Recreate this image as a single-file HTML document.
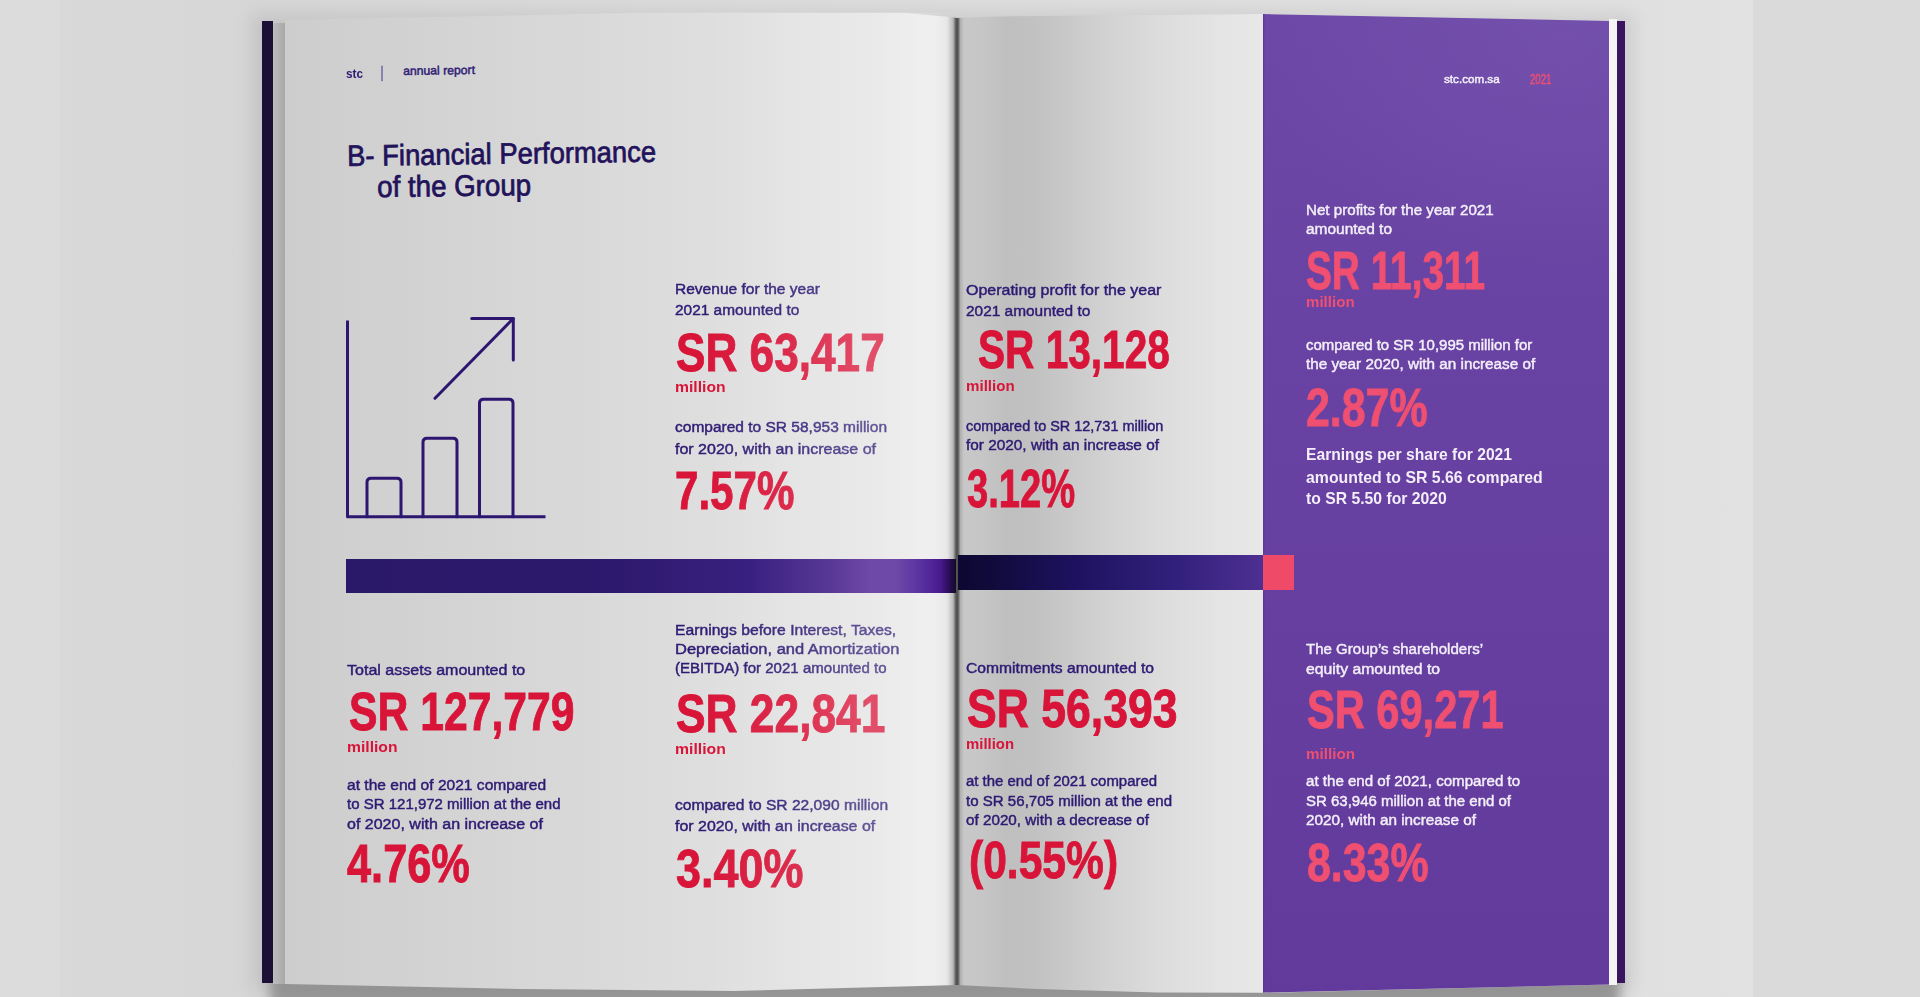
<!DOCTYPE html>
<html><head><meta charset="utf-8">
<style>
html,body{margin:0;padding:0;}
body{width:1920px;height:997px;overflow:hidden;position:relative;background:#dcdcdc;font-family:"Liberation Sans",sans-serif;}
.abs{position:absolute;}
.t{position:absolute;white-space:nowrap;transform-origin:0 0;}
#bgl{left:0;top:0;width:60px;height:997px;background:#dcdcdc;}
#bgr{left:1753px;top:0;width:167px;height:997px;background:#dadada;}
#bgm{left:60px;top:0;width:1693px;height:997px;background:linear-gradient(90deg,#d9d9d9 0px,#d6d6d6 195px,#dcdcdc 900px,#e0e0e0 1560px,#e2e2e2 1693px);}
#shadow{left:270px;top:975px;width:1350px;height:40px;background:#9a9a9a;filter:blur(6px);}
#soft{left:252px;top:14px;width:1382px;height:976px;background:rgba(0,0,0,0.08);filter:blur(8px);}
#cover-l{left:261.5px;top:20.8px;width:11px;height:962.5px;background:#1c1036;}
#block-l{left:272.5px;top:22.5px;width:13px;height:961.5px;background:linear-gradient(90deg,#bdbdbd,#a7a7a7);}
#page-l{left:285px;top:0;width:672px;height:997px;
 clip-path:polygon(0px 20px, 365px 12.5px, 620px 13px, 665px 17px, 672px 18px, 672px 985px, 450px 991px, 235px 989px, 0px 984px);
 background:linear-gradient(90deg,#cdcdcd 0px,#d5d5d5 200px,#dddddd 400px,#e2e2e2 515px,#e2e2e2 585px,#ebebeb 635px,#ededed 650px,#e6e6e6 662px,#b8b8b8 668px,#666666 670.5px,#4a4a4a 672px);}
#page-r{left:957px;top:0;width:652px;height:997px;
 clip-path:polygon(0px 18px, 40px 16.5px, 306px 14px, 652px 21px, 652px 984.5px, 306px 992.8px, 200px 992.5px, 80px 989px, 0px 985px);
 background:linear-gradient(90deg,#444444 0px,#6a6a6a 1.5px,#b0b0b0 3.5px,#c8c8c8 7px,#c6c6c6 25px,#bfbfbf 50px,#c2c2c2 80px,#d2d2d2 150px,#dcdcdc 200px,#e4e4e4 260px,#e8e8e8 306px);}
#purple{left:1263px;top:0;width:346px;height:997px;
 clip-path:polygon(0px 14px, 346px 21px, 346px 984.5px, 0px 992.6px);
 background:linear-gradient(90deg,#5a3594 0px,rgba(0,0,0,0) 2px),radial-gradient(ellipse 300px 250px at 300px 40px,rgba(130,95,185,0.32),rgba(130,95,185,0) 100%),linear-gradient(180deg,#6d49a7 0px,#6943a3 300px,#663fa0 600px,#623a9c 997px);}
#edge-w{left:1609px;top:18.5px;width:8px;height:966px;background:#f4f4f4;}
#cover-r{left:1617px;top:21px;width:8.3px;height:962px;background:#3b145f;}
#band-l{left:346px;top:558.8px;width:610px;height:34.2px;
 background:linear-gradient(90deg,#2a1868 0px,#2c196c 254px,#392080 404px,#583896 484px,#6f48a8 524px,#6e4aa8 549px,#5a32a0 574px,#4a1a90 594px,#2a0e58 603px,#140a28 610px);}
#band-r{left:958px;top:555px;width:305px;height:35px;
 background:linear-gradient(90deg,#0c0830 0px,#110b3e 40px,#1e1260 120px,#32217c 220px,#4e2f92 305px);}
#hl{left:700px;top:0;width:257px;height:997px;clip-path:polygon(0px 12.5px, 257px 12.5px, 257px 985px, 0px 991px);background:linear-gradient(90deg,rgba(255,255,255,0) 0px,rgba(255,255,255,0.1) 90px,rgba(255,255,255,0.25) 170px,rgba(255,255,255,0.2) 220px,rgba(255,255,255,0) 257px);}
#pink{left:1263px;top:555px;width:31px;height:35px;background:#ef4b68;}
</style></head><body>
<div class="abs" id="bgl"></div><div class="abs" id="bgm"></div><div class="abs" id="bgr"></div>
<div class="abs" id="shadow"></div>
<div class="abs" id="soft"></div>
<div class="abs" id="cover-l"></div>
<div class="abs" id="block-l"></div>
<div class="abs" id="page-l"></div>
<div class="abs" id="page-r"></div>
<div class="abs" id="purple"></div>
<div class="abs" id="edge-w"></div>
<div class="abs" id="cover-r"></div>
<svg class="abs" style="left:0;top:0" width="1920" height="997" viewBox="0 0 1920 997">
 <g fill="none" stroke="#2c1670" stroke-width="3" stroke-linejoin="round" stroke-linecap="round">
  <polyline points="347.5,320.5 347.5,516.7 545.5,516.7" stroke-linecap="butt"/>
  <path d="M367,516.7 V482.3 Q367,478.3 371,478.3 H397 Q401,478.3 401,482.3 V516.7"/>
  <path d="M423,516.7 V442.3 Q423,438.3 427,438.3 H453 Q457,438.3 457,442.3 V516.7"/>
  <path d="M479.5,516.7 V403.3 Q479.5,399.3 483.5,399.3 H509 Q513,399.3 513,403.3 V516.7"/>
  <line x1="435" y1="398.3" x2="513.3" y2="318.5"/>
  <polyline points="471.7,318.5 513.3,318.5 513.3,360"/>
 </g>
</svg>
<div class="t" style="left:346.00px;top:67.58px;font-size:12.30px;line-height:12.30px;color:#2e1a74;font-weight:bold;transform:scaleX(0.9562);">stc</div>
<div class="t" style="left:381.00px;top:65.46px;font-size:15.99px;line-height:15.99px;color:#3c2c88;-webkit-text-stroke:0.45px #3c2c88;transform:scaleX(0.4811);">|</div>
<div class="t" style="left:403.00px;top:65.34px;font-size:12.11px;line-height:12.11px;color:#2e1a74;-webkit-text-stroke:0.45px #2e1a74;transform:rotate(-0.8deg) scaleX(1.0082);">annual report</div>
<div class="t" style="left:347.00px;top:140.82px;font-size:29.51px;line-height:29.51px;color:#22125a;-webkit-text-stroke:0.75px #22125a;transform:rotate(-0.8deg) scaleX(0.9280);">B- Financial Performance</div>
<div class="t" style="left:377.00px;top:172.27px;font-size:29.80px;line-height:29.80px;color:#22125a;-webkit-text-stroke:0.75px #22125a;transform:rotate(-0.65deg) scaleX(0.9296);">of the Group</div>
<div class="t" style="left:674.60px;top:281.95px;font-size:14.83px;line-height:14.83px;color:#2e1a74;-webkit-text-stroke:0.45px #2e1a74;transform:scaleX(1.0471);">Revenue for the year</div>
<div class="t" style="left:674.60px;top:303.35px;font-size:14.83px;line-height:14.83px;color:#2e1a74;-webkit-text-stroke:0.45px #2e1a74;transform:scaleX(1.0402);">2021 amounted to</div>
<div class="t" style="left:675.60px;top:324.62px;font-size:54.07px;line-height:54.07px;color:#d81438;font-weight:bold;-webkit-text-stroke:0.9px #d81438;transform:scaleX(0.8169);">SR 63,417</div>
<div class="t" style="left:674.60px;top:380.08px;font-size:14.67px;line-height:14.67px;color:#d81438;font-weight:bold;transform:scaleX(1.0713);">million</div>
<div class="t" style="left:674.60px;top:420.45px;font-size:14.83px;line-height:14.83px;color:#2e1a74;-webkit-text-stroke:0.45px #2e1a74;transform:scaleX(1.0457);">compared to SR 58,953 million</div>
<div class="t" style="left:674.60px;top:441.75px;font-size:14.83px;line-height:14.83px;color:#2e1a74;-webkit-text-stroke:0.45px #2e1a74;transform:scaleX(1.0790);">for 2020, with an increase of</div>
<div class="t" style="left:675.00px;top:463.87px;font-size:53.78px;line-height:53.78px;color:#d81438;font-weight:bold;-webkit-text-stroke:0.9px #d81438;transform:scaleX(0.7831);">7.57%</div>
<div class="t" style="left:966.30px;top:283.25px;font-size:14.83px;line-height:14.83px;color:#2e1a74;-webkit-text-stroke:0.45px #2e1a74;transform:scaleX(1.0777);">Operating profit for the year</div>
<div class="t" style="left:966.30px;top:304.45px;font-size:14.83px;line-height:14.83px;color:#2e1a74;-webkit-text-stroke:0.45px #2e1a74;transform:scaleX(1.0402);">2021 amounted to</div>
<div class="t" style="left:978.00px;top:323.07px;font-size:53.78px;line-height:53.78px;color:#d81438;font-weight:bold;-webkit-text-stroke:0.9px #d81438;transform:scaleX(0.7548);">SR 13,128</div>
<div class="t" style="left:966.30px;top:378.98px;font-size:14.67px;line-height:14.67px;color:#d81438;font-weight:bold;transform:scaleX(1.0311);">million</div>
<div class="t" style="left:966.30px;top:419.45px;font-size:14.83px;line-height:14.83px;color:#2e1a74;-webkit-text-stroke:0.45px #2e1a74;transform:scaleX(0.9732);">compared to SR 12,731 million</div>
<div class="t" style="left:966.30px;top:438.45px;font-size:14.83px;line-height:14.83px;color:#2e1a74;-webkit-text-stroke:0.45px #2e1a74;transform:scaleX(1.0360);">for 2020, with an increase of</div>
<div class="t" style="left:967.00px;top:461.67px;font-size:53.78px;line-height:53.78px;color:#d81438;font-weight:bold;-webkit-text-stroke:0.9px #d81438;transform:scaleX(0.7103);">3.12%</div>
<div class="t" style="left:1305.80px;top:203.05px;font-size:14.83px;line-height:14.83px;color:#f3eef8;-webkit-text-stroke:0.45px #f3eef8;transform:scaleX(1.0209);">Net profits for the year 2021</div>
<div class="t" style="left:1305.80px;top:221.75px;font-size:14.83px;line-height:14.83px;color:#f3eef8;-webkit-text-stroke:0.45px #f3eef8;transform:scaleX(1.0433);">amounted to</div>
<div class="t" style="left:1306.00px;top:243.77px;font-size:53.78px;line-height:53.78px;color:#ef4f70;font-weight:bold;-webkit-text-stroke:0.9px #ef4f70;transform:scaleX(0.7212);">SR 11,311</div>
<div class="t" style="left:1306.00px;top:295.28px;font-size:14.67px;line-height:14.67px;color:#ef4f70;font-weight:bold;transform:scaleX(1.0290);">million</div>
<div class="t" style="left:1305.80px;top:338.45px;font-size:14.83px;line-height:14.83px;color:#f3eef8;-webkit-text-stroke:0.45px #f3eef8;transform:scaleX(1.0091);">compared to SR 10,995 million for</div>
<div class="t" style="left:1305.80px;top:357.45px;font-size:14.83px;line-height:14.83px;color:#f3eef8;-webkit-text-stroke:0.45px #f3eef8;transform:scaleX(1.0299);">the year 2020, with an increase of</div>
<div class="t" style="left:1306.00px;top:380.97px;font-size:53.78px;line-height:53.78px;color:#ef4f70;font-weight:bold;-webkit-text-stroke:0.9px #ef4f70;transform:scaleX(0.7976);">2.87%</div>
<div class="t" style="left:1305.80px;top:446.85px;font-size:16.72px;line-height:16.72px;color:#f3eef8;font-weight:bold;transform:scaleX(0.9363);">Earnings per share for 2021</div>
<div class="t" style="left:1305.80px;top:469.85px;font-size:16.72px;line-height:16.72px;color:#f3eef8;font-weight:bold;transform:scaleX(0.9484);">amounted to SR 5.66 compared</div>
<div class="t" style="left:1305.80px;top:491.35px;font-size:16.72px;line-height:16.72px;color:#f3eef8;font-weight:bold;transform:scaleX(0.9418);">to SR 5.50 for 2020</div>
<div class="t" style="left:347.40px;top:662.95px;font-size:14.83px;line-height:14.83px;color:#2e1a74;-webkit-text-stroke:0.45px #2e1a74;transform:scaleX(1.0815);">Total assets amounted to</div>
<div class="t" style="left:348.80px;top:685.27px;font-size:53.78px;line-height:53.78px;color:#d81438;font-weight:bold;-webkit-text-stroke:0.9px #d81438;transform:scaleX(0.7941);">SR 127,779</div>
<div class="t" style="left:347.00px;top:739.58px;font-size:14.67px;line-height:14.67px;color:#d81438;font-weight:bold;transform:scaleX(1.0692);">million</div>
<div class="t" style="left:347.00px;top:778.25px;font-size:14.83px;line-height:14.83px;color:#2e1a74;-webkit-text-stroke:0.45px #2e1a74;transform:scaleX(1.0499);">at the end of 2021 compared</div>
<div class="t" style="left:347.00px;top:797.45px;font-size:14.83px;line-height:14.83px;color:#2e1a74;-webkit-text-stroke:0.45px #2e1a74;transform:scaleX(1.0120);">to SR 121,972 million at the end</div>
<div class="t" style="left:347.00px;top:817.05px;font-size:14.83px;line-height:14.83px;color:#2e1a74;-webkit-text-stroke:0.45px #2e1a74;transform:scaleX(1.0799);">of 2020, with an increase of</div>
<div class="t" style="left:347.30px;top:837.27px;font-size:53.78px;line-height:53.78px;color:#d81438;font-weight:bold;-webkit-text-stroke:0.9px #d81438;transform:scaleX(0.8061);">4.76%</div>
<div class="t" style="left:675.20px;top:622.65px;font-size:14.83px;line-height:14.83px;color:#2e1a74;-webkit-text-stroke:0.45px #2e1a74;transform:scaleX(1.0581);">Earnings before Interest, Taxes,</div>
<div class="t" style="left:675.20px;top:642.05px;font-size:14.83px;line-height:14.83px;color:#2e1a74;-webkit-text-stroke:0.45px #2e1a74;transform:scaleX(1.1113);">Depreciation, and Amortization</div>
<div class="t" style="left:675.20px;top:661.45px;font-size:14.83px;line-height:14.83px;color:#2e1a74;-webkit-text-stroke:0.45px #2e1a74;transform:scaleX(1.0143);">(EBITDA) for 2021 amounted to</div>
<div class="t" style="left:675.60px;top:686.95px;font-size:54.51px;line-height:54.51px;color:#d81438;font-weight:bold;-webkit-text-stroke:0.9px #d81438;transform:scaleX(0.8131);">SR 22,841</div>
<div class="t" style="left:675.20px;top:741.88px;font-size:14.67px;line-height:14.67px;color:#d81438;font-weight:bold;transform:scaleX(1.0755);">million</div>
<div class="t" style="left:675.20px;top:798.25px;font-size:14.83px;line-height:14.83px;color:#2e1a74;-webkit-text-stroke:0.45px #2e1a74;transform:scaleX(1.0511);">compared to SR 22,090 million</div>
<div class="t" style="left:675.20px;top:819.45px;font-size:14.83px;line-height:14.83px;color:#2e1a74;-webkit-text-stroke:0.45px #2e1a74;transform:scaleX(1.0747);">for 2020, with an increase of</div>
<div class="t" style="left:676.00px;top:840.50px;font-size:54.22px;line-height:54.22px;color:#d81438;font-weight:bold;-webkit-text-stroke:0.9px #d81438;transform:scaleX(0.8282);">3.40%</div>
<div class="t" style="left:965.80px;top:661.45px;font-size:14.83px;line-height:14.83px;color:#2e1a74;-webkit-text-stroke:0.45px #2e1a74;transform:scaleX(1.0563);">Commitments amounted to</div>
<div class="t" style="left:966.90px;top:681.59px;font-size:53.05px;line-height:53.05px;color:#d81438;font-weight:bold;-webkit-text-stroke:0.9px #d81438;transform:scaleX(0.8401);">SR 56,393</div>
<div class="t" style="left:966.00px;top:736.58px;font-size:14.67px;line-height:14.67px;color:#d81438;font-weight:bold;transform:scaleX(1.0162);">million</div>
<div class="t" style="left:966.00px;top:774.15px;font-size:14.83px;line-height:14.83px;color:#2e1a74;-webkit-text-stroke:0.45px #2e1a74;transform:scaleX(1.0077);">at the end of 2021 compared</div>
<div class="t" style="left:966.00px;top:794.15px;font-size:14.83px;line-height:14.83px;color:#2e1a74;-webkit-text-stroke:0.45px #2e1a74;transform:scaleX(1.0161);">to SR 56,705 million at the end</div>
<div class="t" style="left:966.00px;top:813.45px;font-size:14.83px;line-height:14.83px;color:#2e1a74;-webkit-text-stroke:0.45px #2e1a74;transform:scaleX(1.0278);">of 2020, with a decrease of</div>
<div class="t" style="left:969.00px;top:834.89px;font-size:51.75px;line-height:51.75px;color:#d81438;font-weight:bold;-webkit-text-stroke:0.9px #d81438;transform:scaleX(0.8227);">(0.55%)</div>
<div class="t" style="left:1306.00px;top:642.45px;font-size:14.83px;line-height:14.83px;color:#f3eef8;-webkit-text-stroke:0.45px #f3eef8;transform:scaleX(1.0148);">The Group’s shareholders’</div>
<div class="t" style="left:1306.00px;top:661.75px;font-size:14.83px;line-height:14.83px;color:#f3eef8;-webkit-text-stroke:0.45px #f3eef8;transform:scaleX(1.0627);">equity amounted to</div>
<div class="t" style="left:1306.90px;top:681.82px;font-size:54.07px;line-height:54.07px;color:#ef4f70;font-weight:bold;-webkit-text-stroke:0.9px #ef4f70;transform:scaleX(0.7695);">SR 69,271</div>
<div class="t" style="left:1306.00px;top:746.58px;font-size:14.67px;line-height:14.67px;color:#ef4f70;font-weight:bold;transform:scaleX(1.0374);">million</div>
<div class="t" style="left:1306.00px;top:774.15px;font-size:14.83px;line-height:14.83px;color:#f3eef8;-webkit-text-stroke:0.45px #f3eef8;transform:scaleX(1.0183);">at the end of 2021, compared to</div>
<div class="t" style="left:1306.00px;top:794.15px;font-size:14.83px;line-height:14.83px;color:#f3eef8;-webkit-text-stroke:0.45px #f3eef8;transform:scaleX(1.0108);">SR 63,946 million at the end of</div>
<div class="t" style="left:1306.00px;top:813.45px;font-size:14.83px;line-height:14.83px;color:#f3eef8;-webkit-text-stroke:0.45px #f3eef8;transform:scaleX(1.0312);">2020, with an increase of</div>
<div class="t" style="left:1307.00px;top:835.42px;font-size:54.07px;line-height:54.07px;color:#ef4f70;font-weight:bold;-webkit-text-stroke:0.9px #ef4f70;transform:scaleX(0.7933);">8.33%</div>
<div class="t" style="left:1444.00px;top:73.91px;font-size:10.98px;line-height:10.98px;color:#f3eef8;-webkit-text-stroke:0.45px #f3eef8;transform:scaleX(1.0622);">stc.com.sa</div>
<div class="t" style="left:1529.50px;top:73.31px;font-size:13.81px;line-height:13.81px;color:#ef4f70;-webkit-text-stroke:0.45px #ef4f70;transform:scaleX(0.6998);">2021</div>
<div class="abs" id="hl"></div>
<div class="abs" id="band-l"></div>
<div class="abs" id="band-r"></div>
<div class="abs" id="pink"></div>
</body></html>
